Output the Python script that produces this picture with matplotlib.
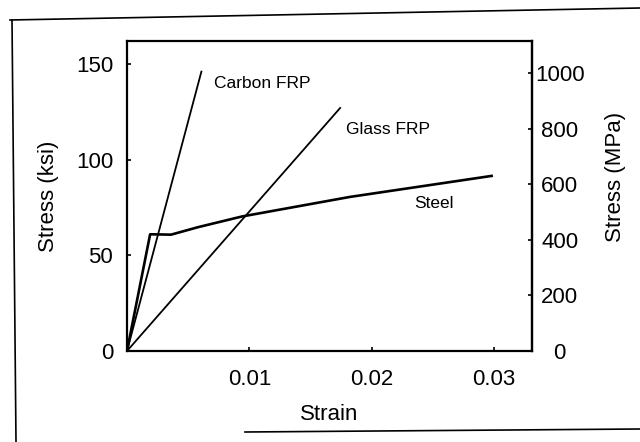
import matplotlib
matplotlib.use("Agg")
import matplotlib.pyplot as plt
from matplotlib.lines import Line2D

plt.rcParams['font.family'] = ['Liberation Sans', 'DejaVu Sans']

# Data (strain, stress in ksi)
carbon_strain = [0.0, 0.00608]
carbon_stress = [0.0, 146.0]
glass_strain = [0.0, 0.01742]
glass_stress = [0.0, 127.0]
steel_strain = [0.0, 0.00189, 0.0036, 0.0058, 0.0094, 0.0182, 0.0298]
steel_stress = [0.0, 61.0, 60.8, 64.7, 70.3, 80.5, 91.5]

labels = ["Carbon FRP", "Glass FRP", "Steel"]
label_pos = [(0.00715, 139.6), (0.0179, 116.0), (0.0235, 77.0)]

left_ticks = [0, 50, 100, 150]
right_ticks = [0, 200, 400, 600, 800, 1000]
x_ticks = [0.01, 0.02, 0.03]
x_ticklabels = ["0.01", "0.02", "0.03"]
KSI_TO_MPA = 6.895

W, H = 640, 442
fig = plt.figure(figsize=(W / 100, H / 100), dpi=100)
ax = fig.add_axes([127 / W, 1 - 351 / H, (532 - 127) / W, (351 - 41) / H])

ax.plot(carbon_strain, carbon_stress, color='black', lw=1.3)
ax.plot(glass_strain, glass_stress, color='black', lw=1.3)
ax.plot(steel_strain, steel_stress, color='black', lw=1.9)

for t, (x, y) in zip(labels, label_pos):
    ax.text(x, y, t, fontsize=12.5, ha='left', va='center')

ax.set_xlim(0, 0.0331)
ax.set_ylim(0, 162)
ax.set_xticks(x_ticks)
ax.set_xticklabels(x_ticklabels)
ax.set_yticks(left_ticks)
ax.tick_params(direction='in', length=3, width=1.2, labelsize=16)
ax.tick_params(axis='y', pad=10)
ax.tick_params(axis='x', pad=13)
for s in ax.spines.values():
    s.set_linewidth(1.6)

ax.set_xlabel("Strain", fontsize=16, labelpad=10)
ax.set_ylabel("Stress (ksi)", fontsize=16, labelpad=12)

sec = ax.secondary_yaxis('right', functions=(lambda k: k * KSI_TO_MPA,
                                             lambda m: m / KSI_TO_MPA))
sec.set_yticks(right_ticks)
sec.tick_params(direction='in', length=3, width=1.2, labelsize=16, pad=20)
for lbl in sec.get_yticklabels():
    lbl.set_ha('center')
sec.spines['right'].set_linewidth(1.6)
sec.set_ylabel("Stress (MPa)", fontsize=16)
sec.yaxis.set_label_coords(605 / W, 1 - 177 / H, transform=fig.transFigure)

# scanned page frame
fig.add_artist(Line2D([10 / W, 1.0], [1 - 20 / H, 1 - 8 / H], color='black', lw=1.2))
fig.add_artist(Line2D([12 / W, 16 / W], [1 - 20 / H, 0.0], color='black', lw=1.2))
fig.add_artist(Line2D([245 / W, 1.0], [1 - 432 / H, 1 - 429 / H], color='black', lw=1.2))

fig.savefig("out.png", dpi=100)
